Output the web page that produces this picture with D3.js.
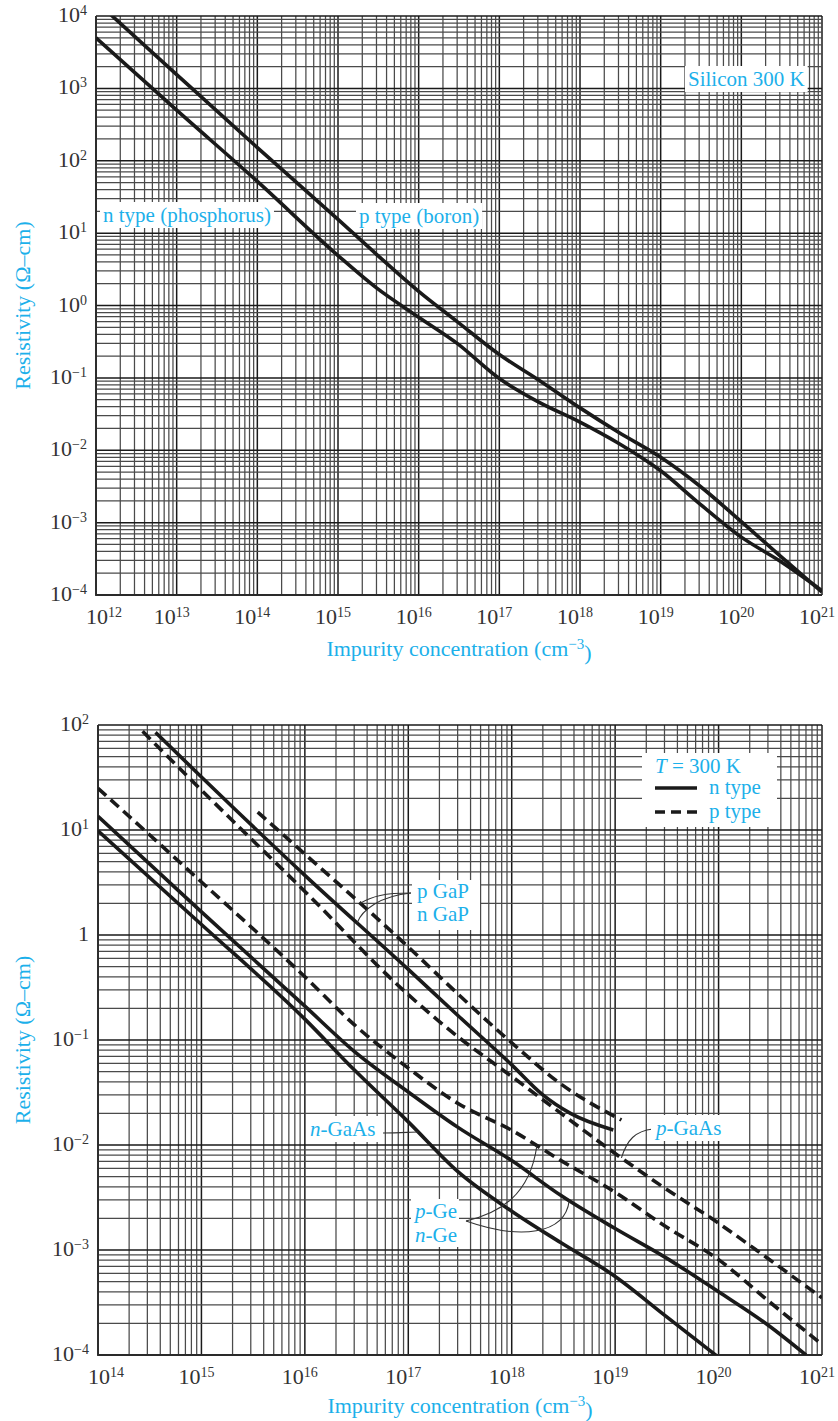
<!DOCTYPE html>
<html>
<head>
<meta charset="utf-8">
<script src="https://cdn.jsdelivr.net/npm/d3@7"></script>
<style>
  body { margin: 0; background: #fff; }
  text { font-family: "Liberation Serif", "Times New Roman", serif; }
</style>
</head>
<body>
<svg id="chart" width="838" height="1421"></svg>
<script>
// ---- top panel: silicon, 300 K ----
const siConc = [1e12, 1e13, 1e14, 1e15, 3e15, 1e16, 3e16, 1e17, 3e17, 1e18, 3e18, 1e19, 3e19, 1e20, 3e20, 1e21]
const siBoronRho = [1.6e4, 1550, 152, 15.5, 5.1, 1.57, 0.60, 0.21, 0.095, 0.0385, 0.0177, 0.0080, 0.00326, 0.00103, 3.5e-4, 1.1e-4]
const siPhosRho = [5000, 500, 51.8, 4.9, 1.75, 0.69, 0.30, 0.098, 0.047, 0.0245, 0.0125, 0.0052, 0.00185, 6.3e-4, 2.95e-4, 1.15e-4]

// ---- bottom panel: Ge, GaAs, GaP ----
const geConc = [1e14, 1e15, 1e16, 3e16, 1e17, 3e17, 1e18, 3e18, 1e19, 3e19, 1e20, 3e20, 7e20]
const nGeRho = [13.5, 1.66, 0.21, 0.078, 0.032, 0.0148, 0.0071, 0.0033, 0.0016, 8.6e-4, 4.0e-4, 1.93e-4, 1.0e-4]
const pGeConc = [1e14, 1e15, 1e16, 3e16, 1e17, 3e17, 1e18, 3e18, 1e19, 3e19, 1e20, 3e20, 1e21]
const pGeRho = [25, 3.2, 0.40, 0.14, 0.054, 0.025, 0.0138, 0.0071, 0.00355, 0.0017, 8.1e-4, 3.3e-4, 1.26e-4]
const nGaAsConc = [1e14, 1e15, 1e16, 3e16, 1e17, 3e17, 1e18, 3e18, 1e19, 3e19, 1e20]
const nGaAsRho = [9.8, 1.26, 0.158, 0.052, 0.0166, 0.0056, 0.00234, 0.00117, 5.6e-4, 2.4e-4, 9.5e-5]
const pGaAsConc = [2.7e14, 1e15, 1e16, 1e17, 3e17, 1e18, 3e18, 1e19, 3e19, 1e20, 3e20, 1e21]
const pGaAsRho = [87, 24, 2.6, 0.27, 0.108, 0.045, 0.020, 0.0083, 0.0039, 0.0018, 8.3e-4, 3.5e-4]
const nGaPConc = [3.6e14, 1e15, 1e16, 1e17, 3e17, 1e18, 2e18, 3.7e18, 9.6e18]
const nGaPRho = [85, 32, 3.7, 0.47, 0.172, 0.058, 0.030, 0.020, 0.0139]
const pGaPConc = [3.5e15, 1e16, 1e17, 3e17, 1e18, 3e18, 1.15e19]
const pGaPRho = [14.8, 5.9, 0.77, 0.276, 0.094, 0.038, 0.0173]

const cyan = '#1cb0ea'
const ink = '#1a1a1a'
const svg = d3.select('#chart')

// log-space lookup on a series, only used to park the label pointers on a curve
function along(xs, ys, n) {
  const lx = xs.map(Math.log10), ly = ys.map(Math.log10), t = Math.log10(n)
  for (let i = 1; i < lx.length; i++) {
    if (t <= lx[i]) {
      const f = (t - lx[i - 1]) / (lx[i] - lx[i - 1])
      return Math.pow(10, ly[i - 1] + f * (ly[i] - ly[i - 1]))
    }
  }
  return ys[ys.length - 1]
}

function isDecade(v) {
  const l = Math.log10(v)
  return Math.abs(l - Math.round(l)) < 1e-9
}

function power(sel, e, one) {
  if (one && e === 0) { sel.append('tspan').text('1'); return }
  sel.append('tspan').text('10')
  sel.append('tspan').attr('font-size', 14).attr('dy', '-0.5em')
    .text(e < 0 ? '\u2212' + (-e) : e)
}

function panel(o) {
  const x = d3.scaleLog().domain(o.xDomain).range([o.left, o.right])
  const y = d3.scaleLog().domain(o.yDomain).range([o.bottom, o.top])
  const g = svg.append('g')

  // log grid paper
  g.append('g').selectAll('line').data(x.ticks()).enter().append('line')
    .attr('x1', d => x(d)).attr('x2', d => x(d))
    .attr('y1', o.top).attr('y2', o.bottom)
    .attr('stroke', d => isDecade(d) ? '#1a1a1a' : '#4a4a4a')
    .attr('stroke-width', d => isDecade(d) ? 1.5 : 1.25)
  g.append('g').selectAll('line').data(y.ticks()).enter().append('line')
    .attr('y1', d => y(d)).attr('y2', d => y(d))
    .attr('x1', o.left).attr('x2', o.right)
    .attr('stroke', d => isDecade(d) ? '#1a1a1a' : '#4a4a4a')
    .attr('stroke-width', d => isDecade(d) ? 1.5 : 1.25)
  g.append('path')
    .attr('d', `M${o.left},${o.top}V${o.bottom}H${o.right}`)
    .attr('fill', 'none').attr('stroke', '#2a2a2a').attr('stroke-width', 1.8)

  // tick labels
  const xDec = x.ticks().filter(isDecade)
  g.append('g').selectAll('text').data(xDec).enter().append('text')
    .attr('x', (d, i) => i === 0 ? x(d) - 10 : x(d) - 5)
    .attr('text-anchor', (d, i) => i === 0 ? 'start' : 'middle')
    .attr('y', o.bottom + 29)
    .attr('font-size', 22).attr('fill', '#333')
    .each(function (d) { power(d3.select(this), Math.round(Math.log10(d)), false) })
  const yDec = y.ticks().filter(isDecade)
  g.append('g').selectAll('text').data(yDec).enter().append('text')
    .attr('x', o.left - 9).attr('y', d => y(d) + 6)
    .attr('text-anchor', 'end')
    .attr('font-size', 22).attr('fill', '#333')
    .each(function (d) { power(d3.select(this), Math.round(Math.log10(d)), o.plainOne) })

  // axis titles
  g.append('text')
    .attr('transform', `translate(30,${(o.top + o.bottom) / 2}) rotate(-90)`)
    .attr('text-anchor', 'middle').attr('font-size', 22).attr('fill', cyan)
    .text('Resistivity (\u03A9\u2013cm)')
  const xt = g.append('text')
    .attr('x', (o.left + o.right) / 2).attr('y', o.titleY)
    .attr('text-anchor', 'middle').attr('font-size', 22).attr('fill', cyan)
  xt.append('tspan').text('Impurity concentration (cm')
  xt.append('tspan').attr('font-size', 15).attr('dy', '-0.5em').text('\u22123')
  xt.append('tspan').attr('dy', '0.5em').text(')')

  const clipId = 'clip' + o.top
  svg.append('clipPath').attr('id', clipId).append('rect')
    .attr('x', o.left).attr('y', o.top)
    .attr('width', o.right - o.left).attr('height', o.bottom - o.top)
  const plot = g.append('g').attr('clip-path', `url(#${clipId})`)
  const line = d3.line().x(d => x(d[0])).y(d => y(d[1])).curve(d3.curveMonotoneX)

  function curve(xs, ys, dashed) {
    plot.append('path')
      .datum(xs.map((v, i) => [v, ys[i]]))
      .attr('d', line)
      .attr('fill', 'none').attr('stroke', ink).attr('stroke-width', 3.6)
      .attr('stroke-dasharray', dashed ? '11,6' : null)
  }
  return { x, y, g, curve }
}

// text with a white patch behind it
function label(g, x, y, parts, pad) {
  const t = g.append('text').attr('x', x).attr('y', y)
    .attr('font-size', 21).attr('fill', cyan)
  parts.forEach(p => {
    const s = t.append('tspan').text(p.t)
    if (p.i) s.attr('font-style', 'italic')
  })
  const b = t.node().getBBox()
  pad = pad || [3, 1]
  g.insert('rect', () => t.node())
    .attr('x', b.x - pad[0]).attr('y', b.y - pad[1])
    .attr('width', b.width + 2 * pad[0]).attr('height', b.height + 2 * pad[1])
    .attr('fill', '#fff')
  return t
}

function pointer(g, d) {
  g.append('path').attr('d', d)
    .attr('fill', 'none').attr('stroke', '#333').attr('stroke-width', 1.1)
}

// ---------- top panel ----------
const siPanel = panel({
  xDomain: [1e12, 1e21], yDomain: [1e-4, 1e4],
  left: 96, right: 822, top: 16, bottom: 595, titleY: 656, plainOne: false
})
siPanel.curve(siConc, siBoronRho, false)
siPanel.curve(siConc, siPhosRho, false)
label(siPanel.g, 688, 86, [{ t: 'Silicon 300 K' }])
label(siPanel.g, 103, 222, [{ t: 'n type (phosphorus)' }])
label(siPanel.g, 359, 223, [{ t: 'p type (boron)' }])

// ---------- bottom panel ----------
const gePanel = panel({
  xDomain: [1e14, 1e21], yDomain: [1e-4, 1e2],
  left: 98, right: 822, top: 725, bottom: 1355, titleY: 1413, plainOne: true
})
gePanel.curve(pGaAsConc, pGaAsRho, true)
gePanel.curve(nGaPConc, nGaPRho, false)
gePanel.curve(pGaPConc, pGaPRho, true)
gePanel.curve(pGeConc, pGeRho, true)
gePanel.curve(geConc, nGeRho, false)
gePanel.curve(nGaAsConc, nGaAsRho, false)

const bx = gePanel.x, by = gePanel.y
const bg = gePanel.g

// p GaP / n GaP
let n1 = 3.4e16, n2 = 3.2e16
pointer(bg, `M411,893 C385,893 372,896 ${bx(n1)},${by(along(pGaPConc, pGaPRho, n1))}`)
pointer(bg, `M411,893 C380,896 362,910 ${bx(n2)},${by(along(nGaPConc, nGaPRho, n2))}`)
bg.append('rect').attr('x', 412).attr('y', 880).attr('width', 68).attr('height', 50).attr('fill', '#fff')
bg.append('text').attr('x', 417).attr('y', 898).attr('font-size', 21).attr('fill', cyan).text('p GaP')
bg.append('text').attr('x', 417).attr('y', 921).attr('font-size', 21).attr('fill', cyan).text('n GaP')

// n-GaAs
n1 = 1.25e17
pointer(bg, `M383,1133 C400,1133 410,1132 ${bx(n1)},${by(along(nGaAsConc, nGaAsRho, n1))}`)
label(bg, 310, 1136, [{ t: 'n', i: true }, { t: '-GaAs' }])

// p-GaAs
n1 = 1.15e19
pointer(bg, `M653,1129 C635,1131 627,1140 ${bx(n1)},${by(along(pGaAsConc, pGaAsRho, n1))}`)
label(bg, 656, 1135, [{ t: 'p', i: true }, { t: '-GaAs' }])

// p-Ge / n-Ge
n1 = 1.75e18; n2 = 3.6e18
pointer(bg, `M466,1221 C500,1213 530,1195 ${bx(n1)},${by(along(pGeConc, pGeRho, n1))}`)
pointer(bg, `M466,1221 C520,1240 565,1235 ${bx(n2)},${by(along(geConc, nGeRho, n2))}`)
label(bg, 415, 1218, [{ t: 'p', i: true }, { t: '-Ge' }], [2, 0])
label(bg, 415, 1242, [{ t: 'n', i: true }, { t: '-Ge' }], [2, 0])

// legend
const lg = bg.append('g')
lg.append('rect').attr('x', 642).attr('y', 753).attr('width', 135).attr('height', 74).attr('fill', '#fff')
const tt = lg.append('text').attr('x', 655).attr('y', 773).attr('font-size', 21).attr('fill', cyan)
tt.append('tspan').attr('font-style', 'italic').text('T')
tt.append('tspan').text(' = 300 K')
lg.append('line').attr('x1', 655).attr('x2', 697).attr('y1', 788).attr('y2', 788)
  .attr('stroke', ink).attr('stroke-width', 3.4)
lg.append('line').attr('x1', 655).attr('x2', 697).attr('y1', 812).attr('y2', 812)
  .attr('stroke', ink).attr('stroke-width', 3.4).attr('stroke-dasharray', '10,6')
lg.append('text').attr('x', 709).attr('y', 794).attr('font-size', 21).attr('fill', cyan).text('n type')
lg.append('text').attr('x', 709).attr('y', 818).attr('font-size', 21).attr('fill', cyan).text('p type')
</script>
</body>
</html>
